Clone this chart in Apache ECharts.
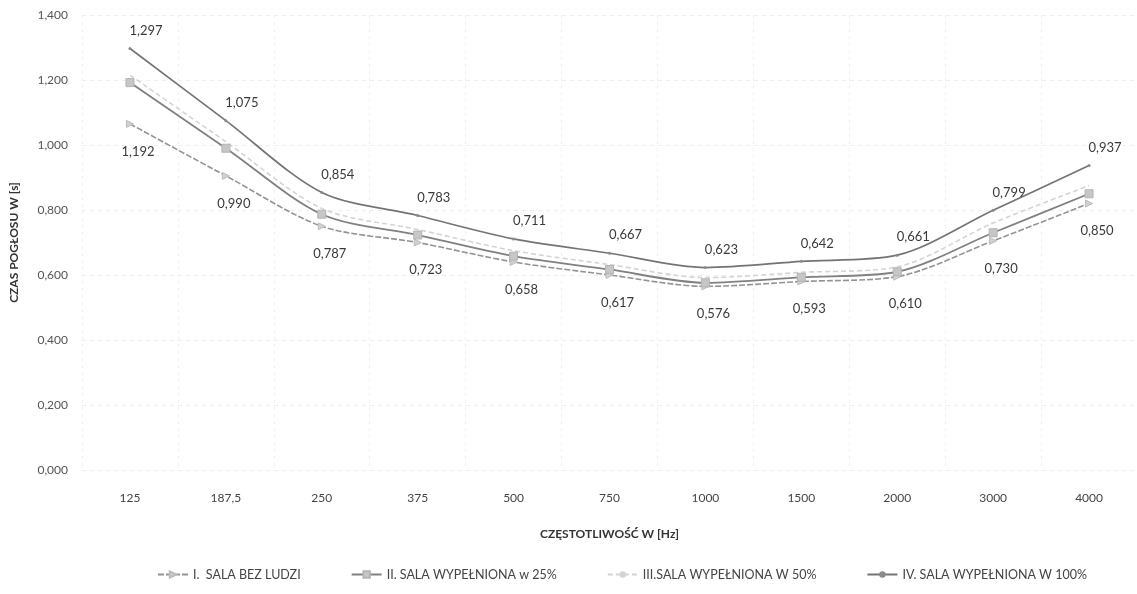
<!DOCTYPE html>
<html>
<head>
<meta charset="utf-8">
<script src="https://cdn.jsdelivr.net/npm/echarts@6/dist/echarts.min.js"></script>
<style>html,body{margin:0;padding:0;background:#fff;}#c{width:1137px;height:594px;}</style>
</head>
<body>
<div id="c"></div>
<script>
const categories = ['125', '187,5', '250', '375', '500', '750', '1000', '1500', '2000', '3000', '4000'];
const seriesNames = ['I.  SALA BEZ LUDZI', 'II. SALA WYPEŁNIONA w 25%', 'III.SALA WYPEŁNIONA W 50%', 'IV. SALA WYPEŁNIONA W 100%'];
const salaBezLudzi = [1.065, 0.905, 0.750, 0.700, 0.640, 0.600, 0.565, 0.580, 0.595, 0.705, 0.820];
const sala25 = [1.192, 0.990, 0.787, 0.723, 0.658, 0.617, 0.576, 0.593, 0.610, 0.730, 0.850];
const sala50 = [1.215, 1.010, 0.805, 0.740, 0.675, 0.632, 0.592, 0.608, 0.625, 0.760, 0.875];
const sala100 = [1.297, 1.075, 0.854, 0.783, 0.711, 0.667, 0.623, 0.642, 0.661, 0.799, 0.937];
const yTicks = { min: 0, max: 1.4, interval: 0.2 };

const fmt = v => Number(v).toFixed(3).replace('.', ',');
const FONT = 'Lato';

const chart = echarts.init(document.getElementById('c'), null, { renderer: 'canvas' });
chart.setOption({
  backgroundColor: '#ffffff',
  animation: false,
  textStyle: { fontFamily: FONT },
  grid: { left: 77, right: 0, top: 15, bottom: 124 },
  legend: {
    bottom: 8,
    left: 152,
    itemGap: 50,
    itemWidth: 30,
    itemHeight: 8,
    textStyle: { fontFamily: FONT, fontSize: 12.5, color: '#444' },
    data: seriesNames
  },
  xAxis: {
    type: 'category',
    data: categories,
    boundaryGap: true,
    name: 'CZĘSTOTLIWOŚĆ W [Hz]',
    nameLocation: 'middle',
    nameGap: 58,
    nameTextStyle: { fontFamily: FONT, fontSize: 12, fontWeight: 'bold', color: '#333' },
    axisLine: { show: false },
    axisTick: { show: false },
    axisLabel: { margin: 22, fontFamily: FONT, fontSize: 12, color: '#444' },
    splitLine: { show: true, lineStyle: { color: '#f0f0f0', type: [3, 4], width: 1 } }
  },
  yAxis: {
    type: 'value',
    min: yTicks.min,
    max: yTicks.max,
    interval: yTicks.interval,
    name: 'CZAS POGŁOSU W [s]',
    nameLocation: 'middle',
    nameGap: 62,
    nameTextStyle: { fontFamily: FONT, fontSize: 12, fontWeight: 'bold', color: '#333' },
    axisLine: { show: false },
    axisTick: { show: false },
    axisLabel: { margin: 14, fontFamily: FONT, fontSize: 12, color: '#555', formatter: v => fmt(v) },
    splitLine: { show: true, lineStyle: { color: '#eeeeee', type: [4, 4], width: 1 } }
  },
  series: [
    {
      name: seriesNames[0],
      type: 'line',
      data: salaBezLudzi,
      smooth: 0.3,
      symbol: 'triangle',
      symbolSize: 7,
      symbolRotate: -90,
      itemStyle: { color: '#d0d0d0', borderColor: '#bdbdbd', borderWidth: 1 },
      lineStyle: { color: '#939393', width: 1.6, type: [6, 2] },
      label: {
        show: true,
        position: 'bottom',
        distance: 5,
        offset: [8, 12],
        fontFamily: FONT,
        fontSize: 13,
        color: '#3a3a3a',
        formatter: p => fmt(sala25[p.dataIndex])
      },
      z: 3
    },
    {
      name: seriesNames[1],
      type: 'line',
      data: sala25,
      smooth: 0.3,
      symbol: 'rect',
      symbolSize: 8,
      itemStyle: { color: '#c6c6c6', borderColor: '#b4b4b4', borderWidth: 1 },
      lineStyle: { color: '#808080', width: 1.8 },
      z: 4
    },
    {
      name: seriesNames[2],
      type: 'line',
      data: sala50,
      smooth: 0.3,
      symbol: 'none',
      itemStyle: { color: '#d4d4d4' },
      lineStyle: { color: '#d4d4d4', width: 1.6, type: [5, 3] },
      z: 2
    },
    {
      name: seriesNames[3],
      type: 'line',
      data: sala100,
      smooth: 0.3,
      symbol: 'circle',
      symbolSize: 3,
      itemStyle: { color: '#8a8a8a' },
      lineStyle: { color: '#747474', width: 1.7 },
      label: {
        show: true,
        position: 'top',
        distance: 5,
        offset: [16, -5],
        fontFamily: FONT,
        fontSize: 13,
        color: '#3a3a3a',
        formatter: p => fmt(p.value)
      },
      z: 5
    }
  ]
});
</script>
</body>
</html>
